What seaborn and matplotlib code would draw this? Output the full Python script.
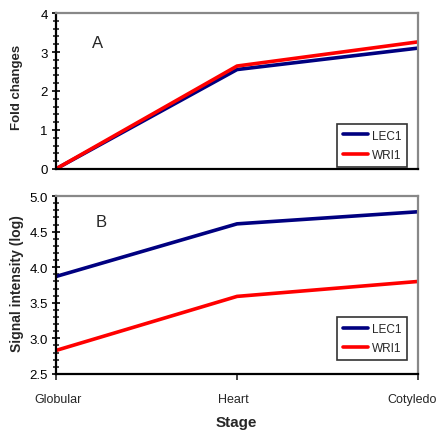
import numpy as np
import pandas as pd
import matplotlib
matplotlib.use("Agg")
import matplotlib.pyplot as plt
import matplotlib.transforms as mtransforms
import seaborn as sns
from matplotlib.ticker import MultipleLocator

stages = ["Globular", "Heart", "Cotyledo"]
genes = ["LEC1", "WRI1"]
fold_lec1 = [0.0, 2.55, 3.10]
fold_wri1 = [0.0, 2.64, 3.26]
sig_lec1 = [3.87, 4.61, 4.78]
sig_wri1 = [2.83, 3.59, 3.80]
colors = {"LEC1": "#000080", "WRI1": "#ff0000"}

sns.set_style("white")
plt.rcParams['font.family'] = ['Liberation Sans', 'DejaVu Sans']

def make_df(a, b):
    rows = []
    for g, vals in zip(genes, [a, b]):
        for i, v in enumerate(vals):
            rows.append({"pos": i, "Stage": stages[i], "gene": g, "value": v})
    return pd.DataFrame(rows)

dfA = make_df(fold_lec1, fold_wri1)
dfB = make_df(sig_lec1, sig_wri1)

fig = plt.figure(figsize=(4.41, 4.39), dpi=100)
axA = fig.add_axes([0.127, 0.613, 0.821, 0.355])
axB = fig.add_axes([0.127, 0.146, 0.821, 0.405])

def style(ax, ymin, ymax, major, minor):
    ax.set_xlim(0, 2)
    ax.set_ylim(ymin, ymax)
    ax.yaxis.set_major_locator(MultipleLocator(major))
    ax.yaxis.set_minor_locator(MultipleLocator(minor))
    for s in ["left", "bottom"]:
        ax.spines[s].set_color("black")
        ax.spines[s].set_linewidth(1.6)
    for s in ["top", "right"]:
        ax.spines[s].set_color("#888888")
        ax.spines[s].set_linewidth(1.6)
    ax.tick_params(axis="y", which="major", direction="inout", length=6, width=1.2,
                   labelsize=9.5, pad=3, left=True, colors="black")
    ax.tick_params(axis="y", which="minor", direction="inout", length=4, width=1.2, left=True)
    ax.set_ylabel("")
    ax.set_xlabel("")

for ax, df in [(axA, dfA), (axB, dfB)]:
    sns.lineplot(data=df, x="pos", y="value", hue="gene", palette=colors,
                 linewidth=2.6, ax=ax, legend=True)

style(axA, 0, 4, 1, 0.2)
style(axB, 2.5, 5.0, 0.5, 0.1)
axA.yaxis.set_major_formatter(plt.FormatStrFormatter("%d"))
axB.yaxis.set_major_formatter(plt.FormatStrFormatter("%.1f"))

axA.set_xticks([0, 1, 2])
axA.tick_params(axis="x", bottom=False, labelbottom=False)
axB.set_xticks([0, 1, 2])
axB.set_xticklabels(stages)
axB.tick_params(axis="x", direction="out", length=4, width=1.2, bottom=True,
                labelsize=9, pad=10)
offsets = [0.02, -0.04, -0.06]
for lab, dx in zip(axB.get_xticklabels(), offsets):
    lab.set_transform(lab.get_transform() +
                      mtransforms.ScaledTranslation(dx, 0, fig.dpi_scale_trans))

for ax, loc in [(axA, (0.775, 0.015)), (axB, (0.775, 0.08))]:
    leg = ax.legend(loc="lower left", bbox_to_anchor=loc, fontsize=8.5, frameon=True,
                    fancybox=False, edgecolor="black", handlelength=2.2,
                    borderpad=0.5, labelspacing=0.6, handletextpad=0.3,
                    borderaxespad=0)
    leg.get_frame().set_linewidth(1.2)
    for line in leg.get_lines():
        line.set_linewidth(2.6)

axA.text(0.10, 0.78, "A", transform=axA.transAxes, fontsize=12)
axB.text(0.11, 0.83, "B", transform=axB.transAxes, fontsize=12)

fig.text(0.038, 0.80, "Fold changes", rotation=90, fontsize=9.5, fontweight="bold",
         ha="center", va="center")
fig.text(0.038, 0.355, "Signal intensity (log)", rotation=90, fontsize=10,
         fontweight="bold", ha="center", va="center")
fig.text(0.535, 0.02, "Stage", fontsize=11, fontweight="bold", ha="center", va="bottom")

fig.savefig("out.png", dpi=100)
